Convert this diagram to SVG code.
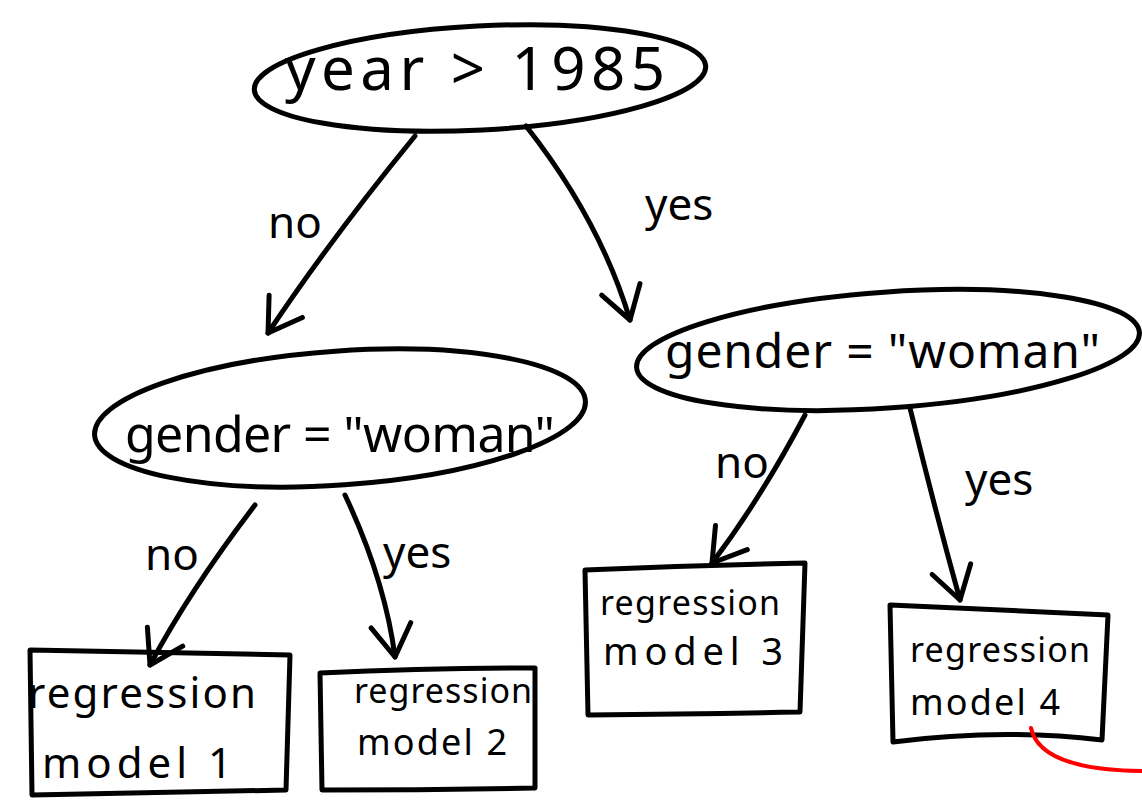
<svg xmlns="http://www.w3.org/2000/svg" width="1142" height="800" viewBox="0 0 1142 800">
<style>
.ln{fill:none;stroke:#000;stroke-width:5;stroke-linecap:round;stroke-linejoin:round}
.t{font-family:"Noto Sans","DejaVu Sans",sans-serif;fill:#000}
.lab{font-family:"Noto Sans","DejaVu Sans",sans-serif;fill:#000;font-size:44px}
</style>
<defs>
<marker id="ah" markerWidth="12" markerHeight="12" refX="10" refY="6" orient="auto" markerUnits="userSpaceOnUse" viewBox="0 0 12 12" overflow="visible">
<path d="M-22,-14 L10,6 L-22,26" fill="none" stroke="#000" stroke-width="5" stroke-linecap="round" stroke-linejoin="round"/>
</marker>
</defs>
<rect width="1142" height="800" fill="#fff"/>
<g id="connectors">
<path class="ln" d="M415,136 Q330,240 268,333" marker-end="url(#ah)"/>
<path class="ln" d="M526,126 Q600,220 630,320" marker-end="url(#ah)"/>
<path class="ln" d="M255,505 Q190,590 150,665" marker-end="url(#ah)"/>
<path class="ln" d="M345,495 Q385,580 395,657" marker-end="url(#ah)"/>
<path class="ln" d="M805,415 Q760,500 712,563" marker-end="url(#ah)"/>
<path class="ln" d="M910,408 Q935,510 960,600" marker-end="url(#ah)"/>
<text class="lab" x="268" y="238">no</text>
<text class="lab" x="645" y="220">yes</text>
<text class="lab" x="145" y="570">no</text>
<text class="lab" x="383" y="568">yes</text>
<text class="lab" x="715" y="478">no</text>
<text class="lab" x="965" y="495">yes</text>
</g>
<g id="n_year">
<ellipse class="ln" cx="480" cy="78" rx="226" ry="52" transform="rotate(-3 480 78)"/>
<text class="t" x="285" y="90" font-size="60" textLength="380" lengthAdjust="spacing">year &gt; 1985</text>
</g>
<g id="n_gender_left">
<ellipse class="ln" cx="340" cy="418" rx="246" ry="67" transform="rotate(-4 340 418)"/>
<text class="t" x="125" y="452" font-size="50" textLength="430" lengthAdjust="spacing">gender = "woman"</text>
</g>
<g id="n_gender_right">
<ellipse class="ln" cx="888" cy="350" rx="252" ry="58" transform="rotate(-4 888 350)"/>
<text class="t" x="665" y="368" font-size="48" textLength="435" lengthAdjust="spacing">gender = "woman"</text>
</g>
<g id="n_model1">
<path class="ln" d="M30,650 Q160,652 290,655 L286,790 Q160,792 32,795 Z"/>
<text class="t" x="28" y="708" font-size="42" textLength="228" lengthAdjust="spacing">regression</text>
<text class="t" x="42" y="778" font-size="42" textLength="190" lengthAdjust="spacing">model 1</text>
</g>
<g id="n_model2">
<path class="ln" d="M320,673 Q430,668 535,668 L535,788 Q430,790 322,790 Z"/>
<text class="t" x="354" y="703" font-size="34" textLength="178" lengthAdjust="spacing">regression</text>
<text class="t" x="357" y="755" font-size="36" textLength="150" lengthAdjust="spacing">model 2</text>
</g>
<g id="n_model3">
<path class="ln" d="M585,570 Q700,565 805,563 L800,712 Q700,714 588,715 Z"/>
<text class="t" x="600" y="615" font-size="34" textLength="180" lengthAdjust="spacing">regression</text>
<text class="t" x="603" y="665" font-size="38" textLength="180" lengthAdjust="spacing">model 3</text>
</g>
<g id="n_model4">
<path class="ln" d="M890,605 Q1000,610 1108,615 L1102,740 Q1000,728 893,742 Z"/>
<text class="t" x="910" y="662" font-size="34" textLength="180" lengthAdjust="spacing">regression</text>
<text class="t" x="910" y="715" font-size="36" textLength="150" lengthAdjust="spacing">model 4</text>
</g>
<path d="M1031,728 Q1040,770 1142,771" fill="none" stroke="#f00" stroke-width="4" stroke-linecap="round"/>
</svg>
